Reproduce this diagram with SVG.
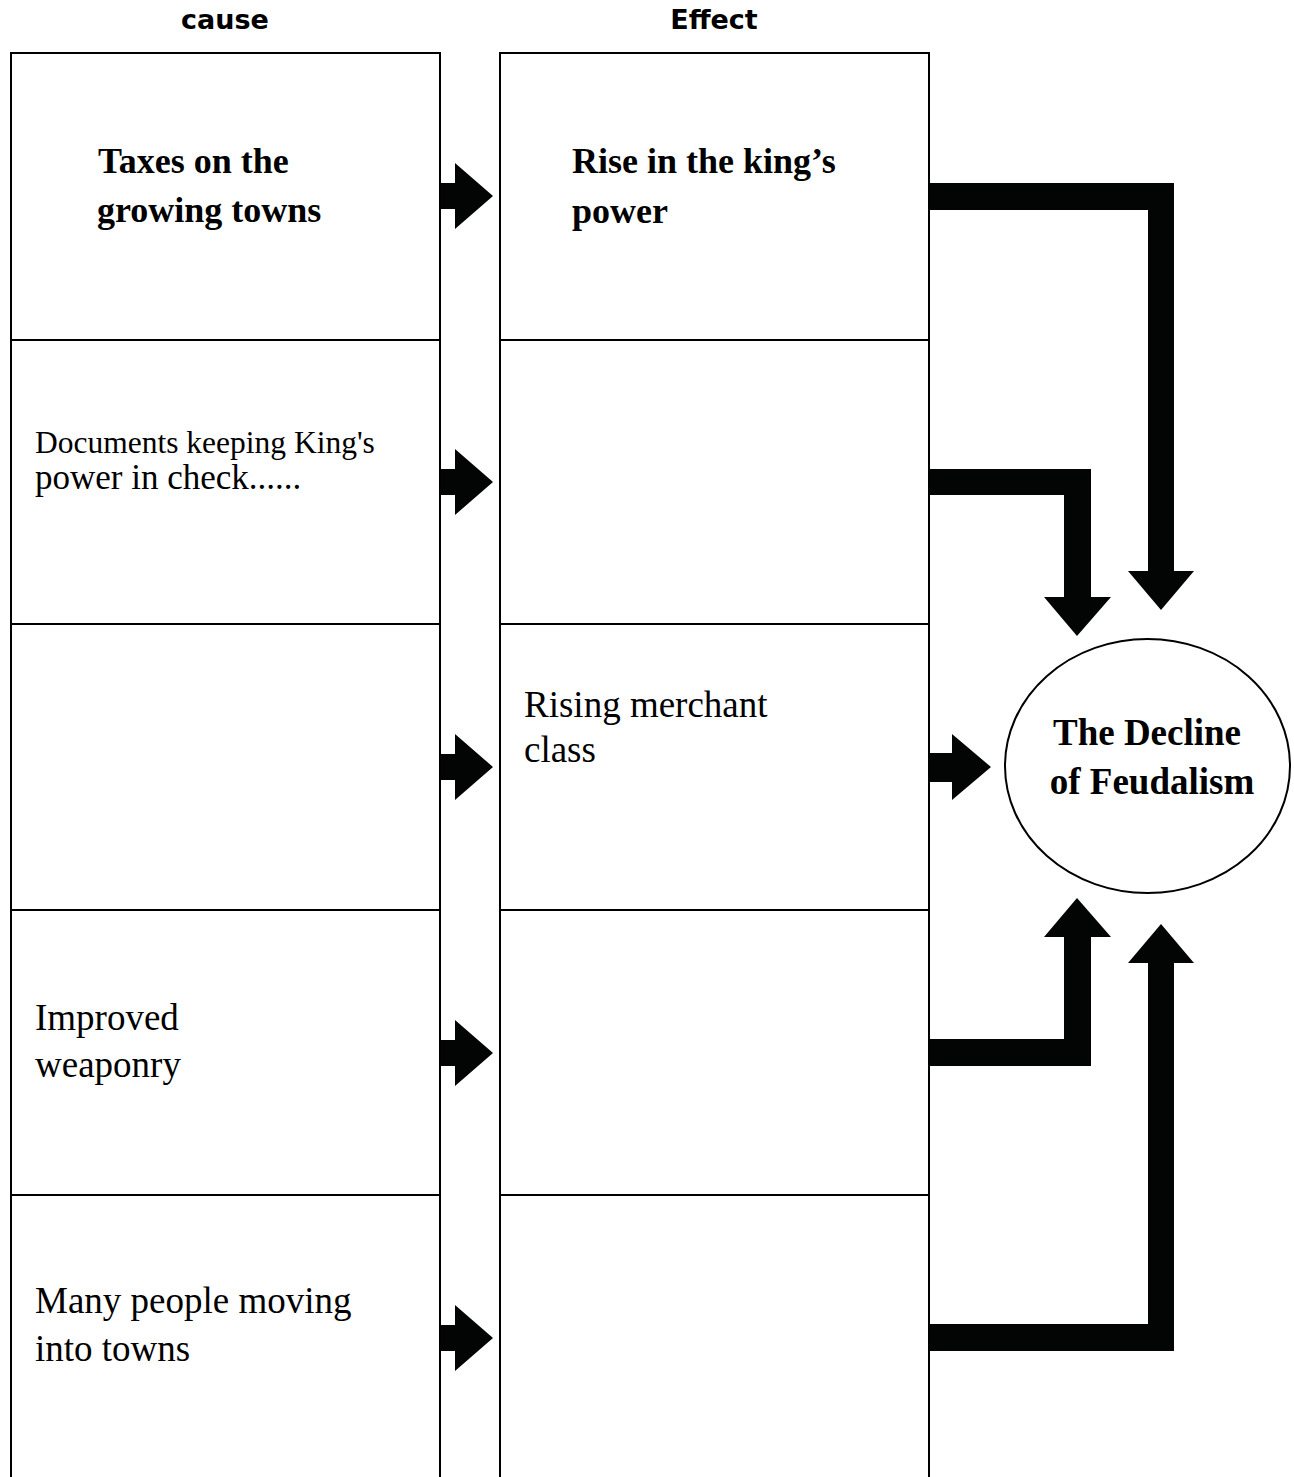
<svg xmlns="http://www.w3.org/2000/svg" width="1294" height="1477" viewBox="0 0 1294 1477">
<style>
.cell{fill:#fff;stroke:#000;stroke-width:2}
.hd{font-family:"DejaVu Sans",sans-serif;font-weight:bold;font-size:27px;fill:#000;text-anchor:middle}
.tb{font-family:"Liberation Serif","Times New Roman",serif;font-weight:bold;font-size:36px;fill:#000}
.tr{font-family:"Liberation Serif","Times New Roman",serif;font-size:37px;fill:#000}
.arr{fill:#030504}
</style>
<defs>
<polygon id="small" points="0,-13 14,-13 14,-33 52,0 14,33 14,13 0,13"/>
</defs>
<rect width="1294" height="1477" fill="#fff"/>
<g id="headers">
<text class="hd" x="225" y="29">cause</text>
<text class="hd" x="714" y="29">Effect</text>
</g>
<g id="cause1"><rect class="cell" x="11" y="53" width="429" height="287"/>
<text class="tb" x="98" y="173">Taxes on the</text><text class="tb" x="97" y="222">growing towns</text></g>
<g id="cause2"><rect class="cell" x="11" y="340" width="429" height="284"/>
<text class="tr" x="35" y="453" style="font-size:31.5px">Documents keeping King's</text><text class="tr" x="35" y="489" style="font-size:35px">power in check......</text></g>
<g id="cause3"><rect class="cell" x="11" y="624" width="429" height="286"/></g>
<g id="cause4"><rect class="cell" x="11" y="910" width="429" height="285"/>
<text class="tr" x="35" y="1030">Improved</text><text class="tr" x="35" y="1077">weaponry</text></g>
<g id="cause5"><rect class="cell" x="11" y="1195" width="429" height="290"/>
<text class="tr" x="35" y="1313">Many people moving</text><text class="tr" x="35" y="1361">into towns</text></g>
<g id="effect1"><rect class="cell" x="500" y="53" width="429" height="287"/>
<text class="tb" x="572" y="173">Rise in the king’s</text><text class="tb" x="572" y="223">power</text></g>
<g id="effect2"><rect class="cell" x="500" y="340" width="429" height="284"/></g>
<g id="effect3"><rect class="cell" x="500" y="624" width="429" height="286"/>
<text class="tr" x="524" y="717">Rising merchant</text><text class="tr" x="524" y="762">class</text></g>
<g id="effect4"><rect class="cell" x="500" y="910" width="429" height="285"/></g>
<g id="effect5"><rect class="cell" x="500" y="1195" width="429" height="290"/></g>
<g id="decline">
<ellipse cx="1147.5" cy="766" rx="142.5" ry="127" fill="#fff" stroke="#000" stroke-width="2"/>
<text class="tb" x="1147" y="745" text-anchor="middle" style="font-size:37px">The Decline</text>
<text class="tb" x="1152" y="794" text-anchor="middle" style="font-size:37px">of Feudalism</text>
</g>
<g id="connectors" class="arr">
<use href="#small" x="441" y="196"/>
<use href="#small" x="441" y="482"/>
<use href="#small" x="441" y="767"/>
<use href="#small" x="441" y="1053"/>
<use href="#small" x="441" y="1338"/>
<polygon points="930,753 952,753 952,734 991,767 952,800 952,782 930,782"/>
<polygon points="930,183 1174,183 1174,571 1194,571 1161,610 1128,571 1148,571 1148,210 930,210"/>
<polygon points="930,469 1091,469 1091,597 1111,597 1077,636 1044,597 1064,597 1064,495 930,495"/>
<polygon points="930,1066 1091,1066 1091,937 1111,937 1077,898 1044,937 1064,937 1064,1039 930,1039"/>
<polygon points="930,1351 1174,1351 1174,963 1194,963 1161,924 1128,963 1148,963 1148,1324 930,1324"/>
</g>
</svg>
